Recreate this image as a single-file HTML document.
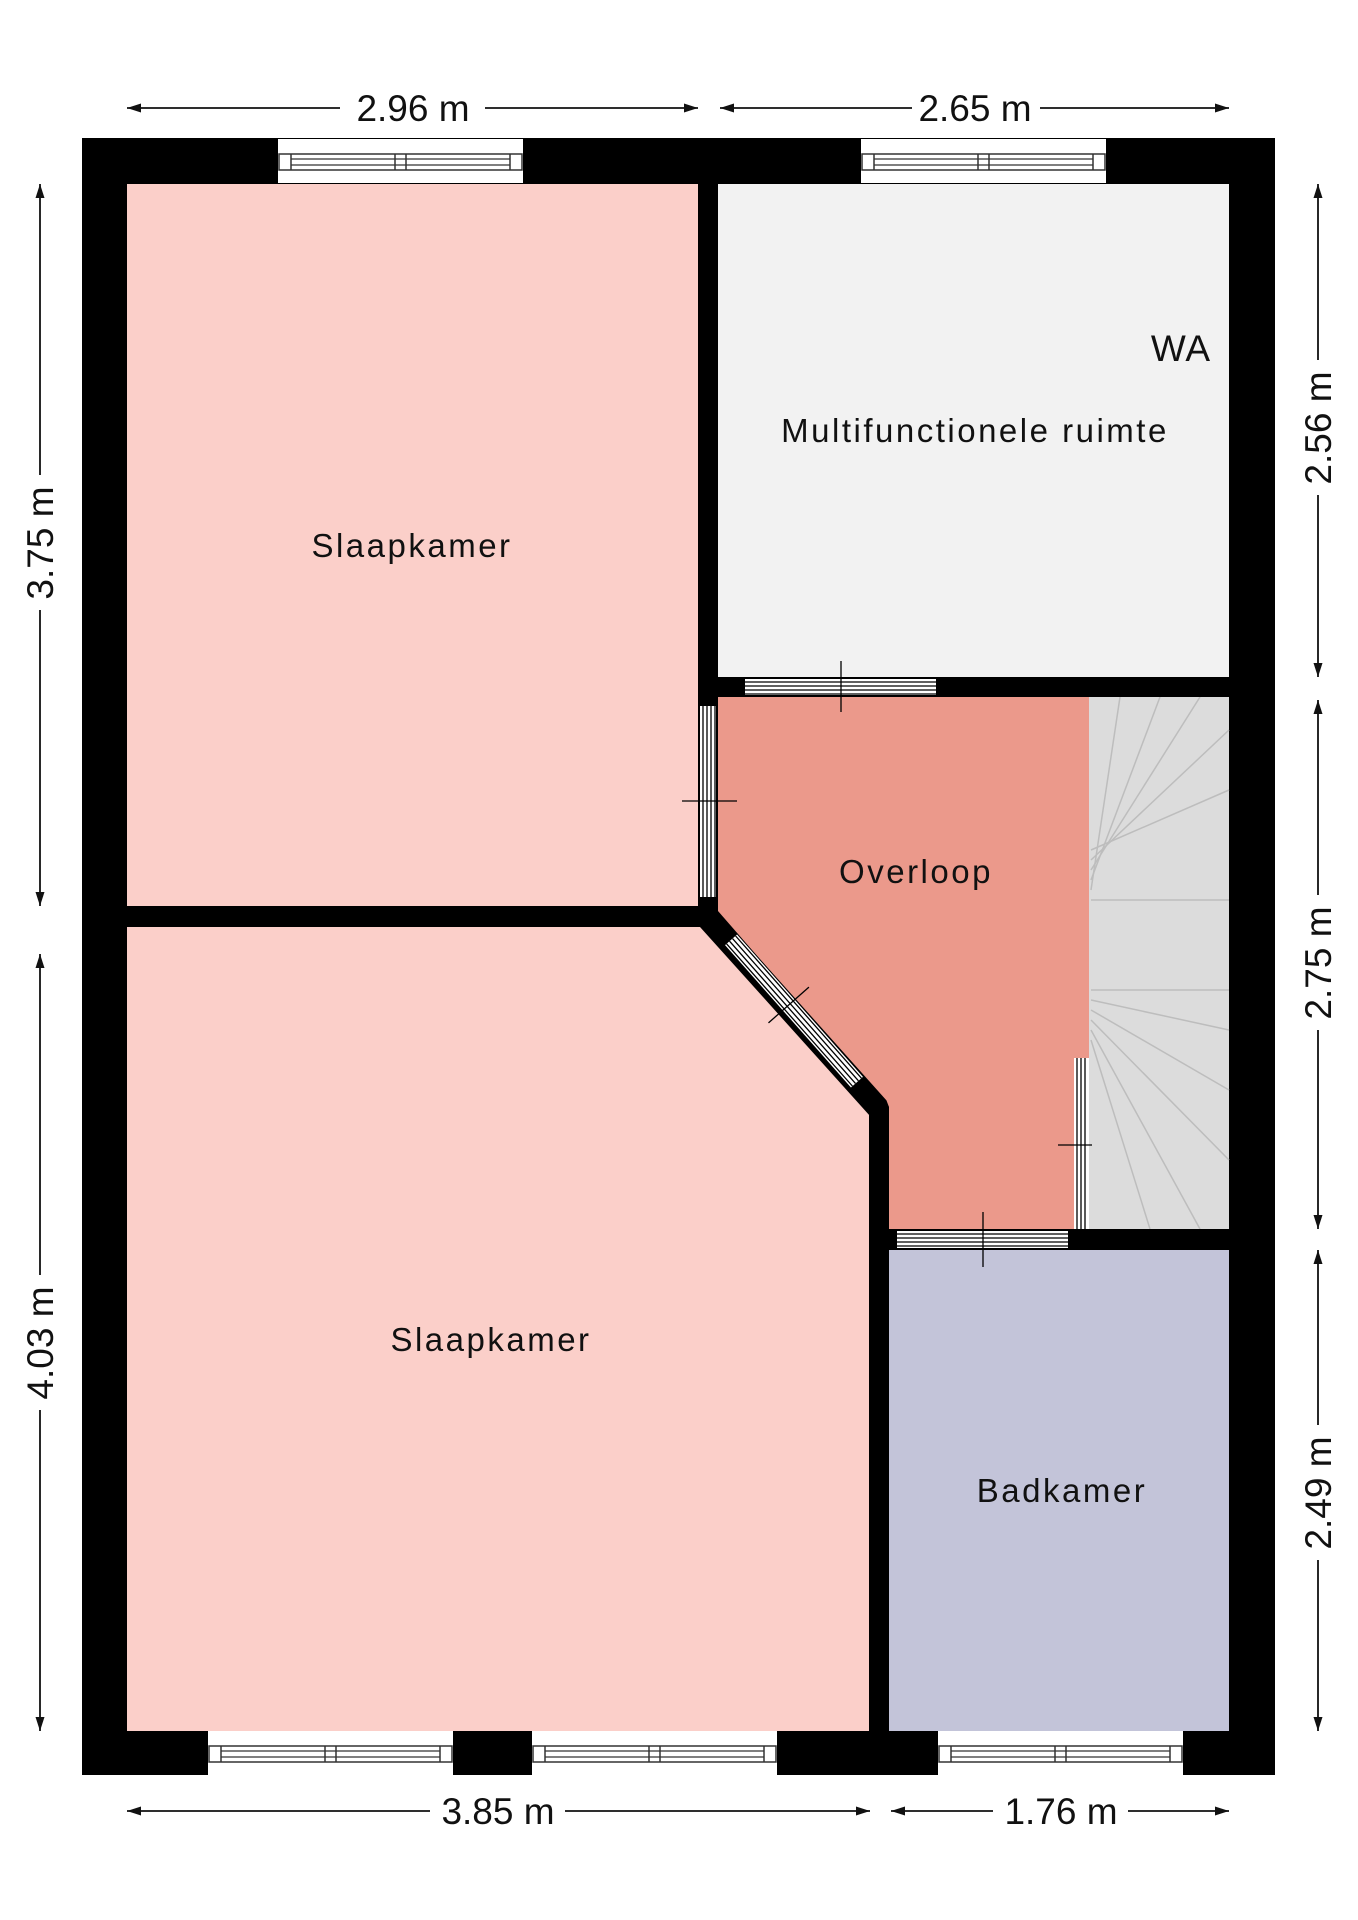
<!DOCTYPE html>
<html><head><meta charset="utf-8"><style>
html,body{margin:0;padding:0;background:#fff}
svg{display:block}
text{font-family:"Liberation Sans",sans-serif;fill:#111}
.lbl{font-size:33px;letter-spacing:2.5px}
.dim{font-size:37px}
</style></head><body>
<svg width="1358" height="1920" viewBox="0 0 1358 1920" xmlns="http://www.w3.org/2000/svg">
<defs>
<marker id="ar" viewBox="0 0 14 10" refX="14" refY="5" markerWidth="14" markerHeight="10" orient="auto-start-reverse" markerUnits="userSpaceOnUse"><path d="M0,0.5 L14,5 L0,9.5 Z" fill="#111"/></marker>
<g id="win">
<rect x="0" y="0" width="245" height="44" fill="#fff"/>
<rect x="1" y="15" width="243" height="16" fill="#fff" stroke="#333" stroke-width="1.5"/>
<line x1="13" y1="15" x2="13" y2="31" stroke="#333" stroke-width="1.5"/>
<line x1="117" y1="15" x2="117" y2="31" stroke="#333" stroke-width="1.5"/>
<line x1="128" y1="15" x2="128" y2="31" stroke="#333" stroke-width="1.5"/>
<line x1="232" y1="15" x2="232" y2="31" stroke="#333" stroke-width="1.5"/>
<line x1="13" y1="20" x2="232" y2="20" stroke="#333" stroke-width="1.2"/>
<line x1="13" y1="26" x2="232" y2="26" stroke="#333" stroke-width="1.2"/>
</g>
</defs>
<rect x="82" y="138" width="1193" height="1637" fill="#000"/>
<rect x="127" y="184" width="571" height="722" fill="#fbcfc9"/>
<rect x="718" y="184" width="511" height="493" fill="#f2f2f2"/>
<polygon points="718,697 1089,697 1089,1229 889,1229 889,1107 718,911" fill="#eb998b"/>
<rect x="1089" y="697" width="140" height="532" fill="#dcdcdc"/>
<polygon points="127,927 700,927 870,1116 870,1731 127,1731" fill="#fbcfc9"/>
<rect x="889" y="1250" width="340" height="481" fill="#c3c4d9"/>
<g stroke="#bdbdbd" stroke-width="1.5" fill="none">
<line x1="1091" y1="900" x2="1229" y2="900"/>
<line x1="1091" y1="990" x2="1229" y2="990"/>
<line x1="1091" y1="890" x2="1120" y2="697"/>
<line x1="1091" y1="880" x2="1160" y2="697"/>
<line x1="1091" y1="870" x2="1200" y2="697"/>
<line x1="1091" y1="860" x2="1229" y2="730"/>
<line x1="1091" y1="850" x2="1229" y2="790"/>
<line x1="1091" y1="1000" x2="1229" y2="1030"/>
<line x1="1091" y1="1010" x2="1229" y2="1090"/>
<line x1="1091" y1="1020" x2="1229" y2="1160"/>
<line x1="1091" y1="1030" x2="1200" y2="1229"/>
<line x1="1091" y1="1040" x2="1150" y2="1229"/>
</g>
<rect x="698" y="184" width="20" height="743" fill="#000"/>
<rect x="127" y="906" width="591" height="21" fill="#000"/>
<rect x="698" y="677" width="531" height="20" fill="#000"/>
<polyline points="708,916 879,1107 879,1731" fill="none" stroke="#000" stroke-width="20" stroke-linejoin="bevel"/>
<rect x="889" y="1229" width="340" height="21" fill="#000"/>
<g>
<rect x="745" y="679" width="191" height="16" fill="#fff"/>
<g stroke="#000" stroke-width="1.3"><line x1="745" y1="682" x2="936" y2="682"/><line x1="745" y1="686" x2="936" y2="686"/><line x1="745" y1="690" x2="936" y2="690"/><line x1="745" y1="694" x2="936" y2="694"/></g>
<line x1="841" y1="661" x2="841" y2="712" stroke="#000" stroke-width="1.3"/>
<rect x="700" y="706" width="16" height="191" fill="#fff"/>
<g stroke="#000" stroke-width="1.3"><line x1="703" y1="706" x2="703" y2="897"/><line x1="707" y1="706" x2="707" y2="897"/><line x1="711" y1="706" x2="711" y2="897"/><line x1="715" y1="706" x2="715" y2="897"/></g>
<line x1="682" y1="801" x2="737" y2="801" stroke="#000" stroke-width="1.3"/>
<g transform="translate(794,1011) rotate(48.5)">
<rect x="-95" y="-8" width="190" height="16" fill="#fff"/>
<g stroke="#000" stroke-width="1.3"><line x1="-95" y1="-6" x2="95" y2="-6"/><line x1="-95" y1="-2" x2="95" y2="-2"/><line x1="-95" y1="2" x2="95" y2="2"/><line x1="-95" y1="6" x2="95" y2="6"/></g>
<line x1="-8" y1="-27" x2="-8" y2="27" stroke="#000" stroke-width="1.3"/>
</g>
<rect x="1074" y="1058" width="15" height="171" fill="#fff"/>
<g stroke="#000" stroke-width="1.3"><line x1="1077" y1="1058" x2="1077" y2="1229"/><line x1="1081" y1="1058" x2="1081" y2="1229"/><line x1="1085" y1="1058" x2="1085" y2="1229"/></g>
<line x1="1058" y1="1145" x2="1092" y2="1145" stroke="#000" stroke-width="1.3"/>
<rect x="897" y="1231" width="171" height="17" fill="#fff"/>
<g stroke="#000" stroke-width="1.3"><line x1="897" y1="1234" x2="1068" y2="1234"/><line x1="897" y1="1238" x2="1068" y2="1238"/><line x1="897" y1="1242" x2="1068" y2="1242"/><line x1="897" y1="1246" x2="1068" y2="1246"/></g>
<line x1="983" y1="1212" x2="983" y2="1267" stroke="#000" stroke-width="1.3"/>
</g>
<use href="#win" x="278" y="139"/>
<use href="#win" x="861" y="139"/>
<use href="#win" x="208" y="1731"/>
<use href="#win" x="532" y="1731"/>
<use href="#win" x="938" y="1731"/>
<text class="lbl" x="412" y="557" text-anchor="middle">Slaapkamer</text>
<text class="lbl" x="975" y="442" text-anchor="middle">Multifunctionele ruimte</text>
<text class="lbl" x="1181" y="361" text-anchor="middle" style="font-size:37px;letter-spacing:1px">WA</text>
<text class="lbl" x="916" y="883" text-anchor="middle">Overloop</text>
<text class="lbl" x="491" y="1351" text-anchor="middle">Slaapkamer</text>
<text class="lbl" x="1062" y="1502" text-anchor="middle">Badkamer</text>
<g stroke="#111" stroke-width="1.8" fill="none">
<line x1="127" y1="108" x2="340" y2="108" marker-start="url(#ar)"/><line x1="485" y1="108" x2="698" y2="108" marker-end="url(#ar)"/>
<line x1="720" y1="108" x2="912" y2="108" marker-start="url(#ar)"/><line x1="1040" y1="108" x2="1229" y2="108" marker-end="url(#ar)"/>
<line x1="127" y1="1811" x2="430" y2="1811" marker-start="url(#ar)"/><line x1="565" y1="1811" x2="870" y2="1811" marker-end="url(#ar)"/>
<line x1="891" y1="1811" x2="993" y2="1811" marker-start="url(#ar)"/><line x1="1128" y1="1811" x2="1229" y2="1811" marker-end="url(#ar)"/>
<line x1="40" y1="184" x2="40" y2="475" marker-start="url(#ar)"/><line x1="40" y1="610" x2="40" y2="906" marker-end="url(#ar)"/>
<line x1="40" y1="954" x2="40" y2="1275" marker-start="url(#ar)"/><line x1="40" y1="1410" x2="40" y2="1731" marker-end="url(#ar)"/>
<line x1="1318" y1="184" x2="1318" y2="360" marker-start="url(#ar)"/><line x1="1318" y1="495" x2="1318" y2="677" marker-end="url(#ar)"/>
<line x1="1318" y1="700" x2="1318" y2="895" marker-start="url(#ar)"/><line x1="1318" y1="1030" x2="1318" y2="1229" marker-end="url(#ar)"/>
<line x1="1318" y1="1250" x2="1318" y2="1425" marker-start="url(#ar)"/><line x1="1318" y1="1560" x2="1318" y2="1731" marker-end="url(#ar)"/>
</g>
<text class="dim" x="413" y="121" text-anchor="middle">2.96 m</text>
<text class="dim" x="975" y="121" text-anchor="middle">2.65 m</text>
<text class="dim" x="498" y="1824" text-anchor="middle">3.85 m</text>
<text class="dim" x="1061" y="1824" text-anchor="middle">1.76 m</text>
<text class="dim" transform="translate(53,543) rotate(-90)" text-anchor="middle">3.75 m</text>
<text class="dim" transform="translate(53,1343) rotate(-90)" text-anchor="middle">4.03 m</text>
<text class="dim" transform="translate(1331,428) rotate(-90)" text-anchor="middle">2.56 m</text>
<text class="dim" transform="translate(1331,963) rotate(-90)" text-anchor="middle">2.75 m</text>
<text class="dim" transform="translate(1331,1493) rotate(-90)" text-anchor="middle">2.49 m</text>
</svg>
</body></html>
